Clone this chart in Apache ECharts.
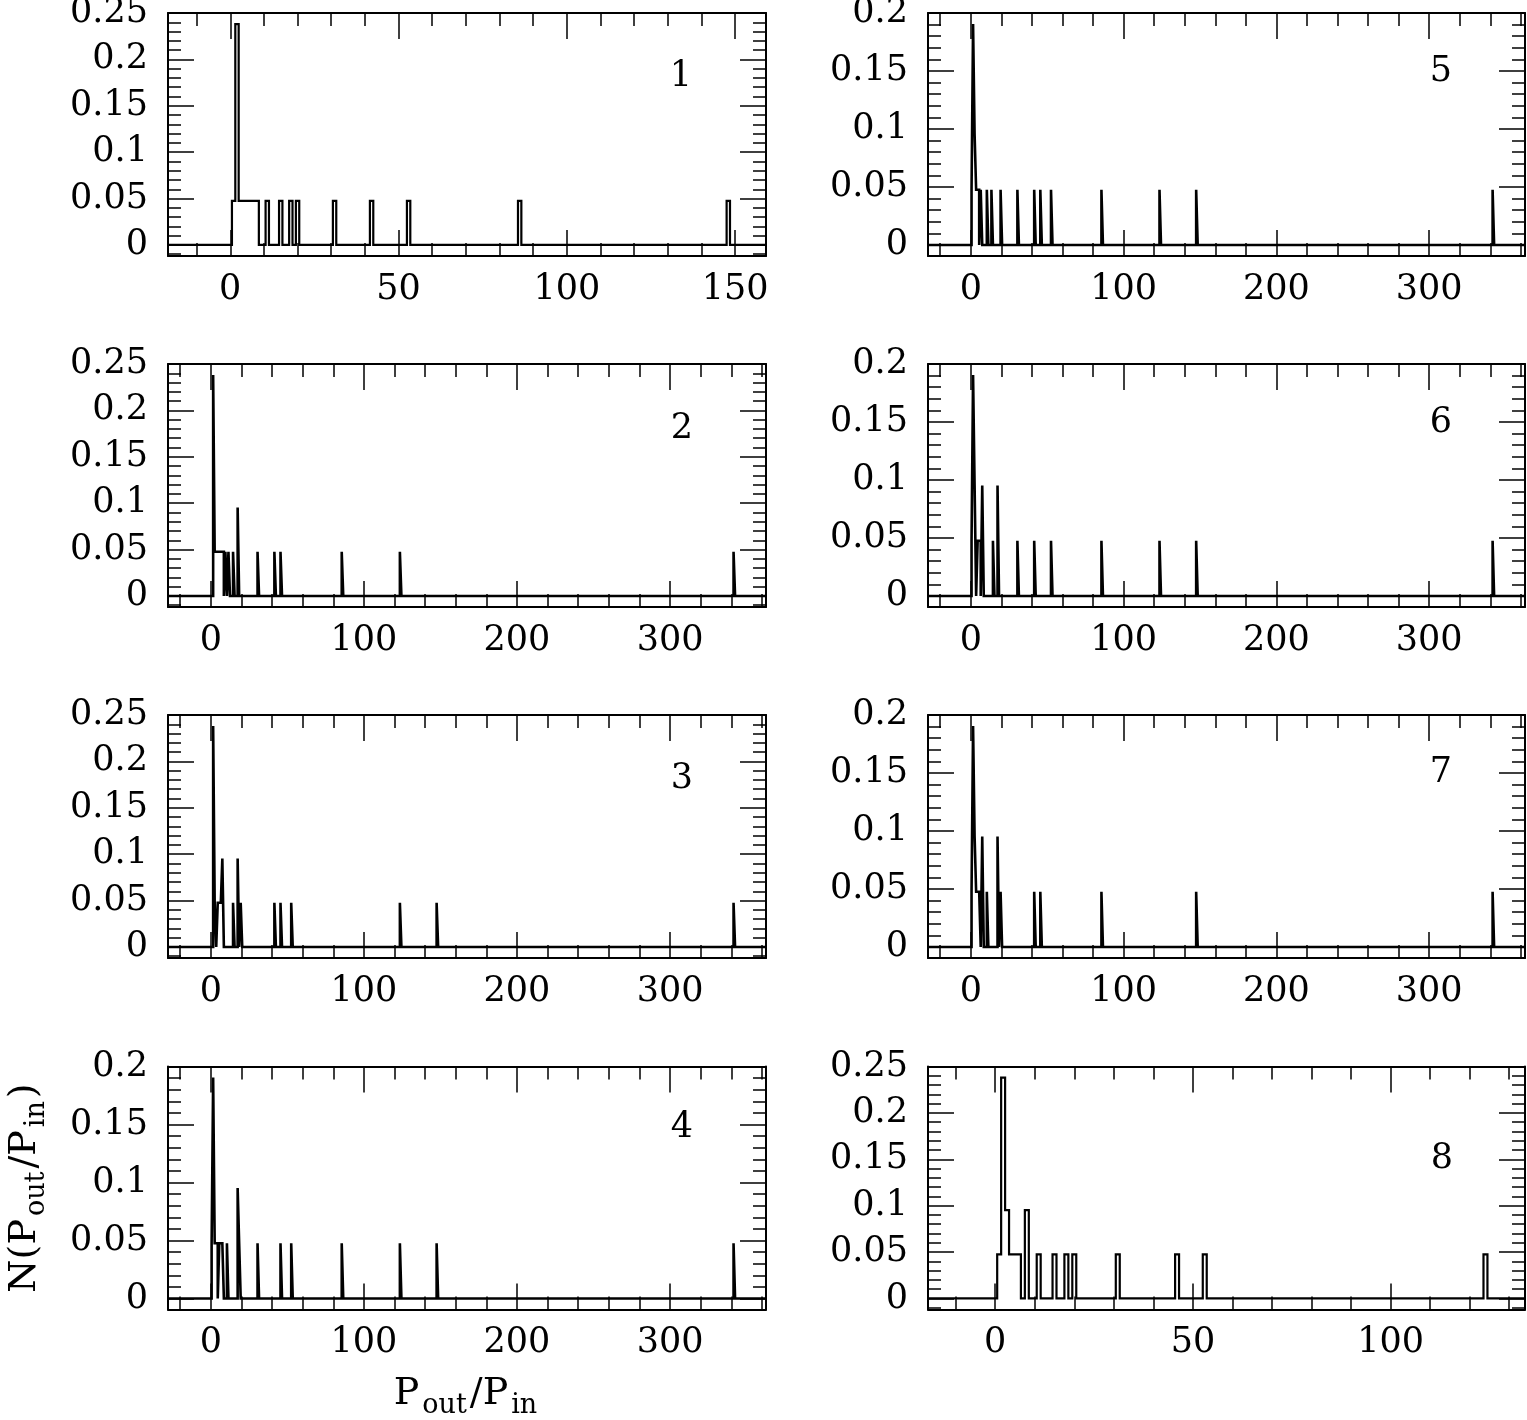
<!DOCTYPE html>
<html><head><meta charset="utf-8">
<script src="https://cdn.jsdelivr.net/npm/echarts@6/dist/echarts.min.js"></script>
<style>html,body{margin:0;padding:0;background:#fff}#c{width:1527px;height:1420px}</style>
</head><body><div id="c"></div>
<script>
// ---------- data (histogram bins: [bin centre, count]); values = count / N_TOTAL ----------
const N_TOTAL = 21;
const BIN_WIDTH = 1;
const bins1 = [[1,1],[2,5],[3,1],[4,1],[5,1],[6,1],[7,1],[8,1],[11,1],[15,1],[18,1],[20,1],[31,1],[42,1],[53,1],[86,1],[148,1]];
const bins2 = [[2,5],[3,1],[4,1],[5,1],[6,1],[7,1],[8,1],[10,1],[12,1],[15,1],[18,2],[31,1],[42,1],[46,1],[86,1],[124,1],[342,1]];
const bins3 = [[2,5],[3,1],[5,1],[6,1],[7,1],[8,2],[15,1],[18,2],[20,1],[42,1],[46,1],[53,1],[124,1],[148,1],[342,1]];
const bins4 = [[1,1],[2,4],[3,1],[4,1],[6,1],[7,1],[8,1],[11,1],[18,2],[19,1],[31,1],[46,1],[53,1],[86,1],[124,1],[148,1],[342,1]];
const bins5 = [[1,1],[2,4],[3,2],[4,1],[5,1],[7,1],[11,1],[14,1],[20,1],[31,1],[42,1],[46,1],[53,1],[86,1],[124,1],[148,1],[342,1]];
const bins6 = [[1,1],[2,4],[3,2],[5,1],[6,1],[8,2],[15,1],[18,2],[31,1],[42,1],[53,1],[86,1],[124,1],[148,1],[342,1]];
const bins7 = [[1,1],[2,4],[3,2],[4,1],[5,1],[6,1],[8,2],[11,1],[18,2],[20,1],[42,1],[46,1],[86,1],[148,1],[342,1]];
const bins8 = [[1,1],[2,5],[3,2],[4,1],[5,1],[6,1],[8,2],[11,1],[15,1],[18,1],[20,1],[31,1],[46,1],[53,1],[124,1]];
const panelLabels = ['1','2','3','4','5','6','7','8'];

// axis ranges
const xRangeA = [-18.5, 159.2];
const xRangeB = [-28, 362.7];
const xRangeC = [-17, 134];
const yRange25 = [-0.0119, 0.25];
const yRange20 = [-0.0095, 0.2];

// tick values / labels
const xMajorA = [0, 50, 100, 150];
const xMinorA = [-10, 10, 20, 30, 40, 60, 70, 80, 90, 110, 120, 130, 140];
const xMajorB = [0, 100, 200, 300];
const xMinorB = [-20, 20, 40, 60, 80, 120, 140, 160, 180, 220, 240, 260, 280, 320, 340, 360];
const xMajorC = [0, 50, 100];
const xMinorC = [-10, 10, 20, 30, 40, 60, 70, 80, 90, 110, 120, 130];
const yMajor25 = [0, 0.05, 0.1, 0.15, 0.2, 0.25];
const yMinor25 = [-0.01, 0.01, 0.02, 0.03, 0.04, 0.06, 0.07, 0.08, 0.09, 0.11, 0.12, 0.13, 0.14, 0.16, 0.17, 0.18, 0.19, 0.21, 0.22, 0.23, 0.24];
const yMajor20 = [0, 0.05, 0.1, 0.15, 0.2];
const yMinor20 = [0.01, 0.02, 0.03, 0.04, 0.06, 0.07, 0.08, 0.09, 0.11, 0.12, 0.13, 0.14, 0.16, 0.17, 0.18, 0.19];

const xTitle = '{m|P}{s|out}{m|/P}{s|in}';
const yTitle = '{m|N(P}{s|out}{m|/P}{s|in}{m|)}';

// ---------- layout / style ----------
const FONT = 'DejaVu Serif';
const FS = 35;
const colLeft = [168, 928], colWidth = [598, 597];
const rowTop = [13, 364, 715, 1066.5], rowHeight = 243;
const labelPos = [[681,77],[682,429],[682,779],[682,1128],[1441,72],[1441,423],[1441,773],[1442,1159]];

const panels = [
  {bins: bins1, xr: xRangeA, yr: yRange25, xMaj: xMajorA, xMin: xMinorA, yMaj: yMajor25, yMin: yMinor25, col: 0, row: 0, lw: 2.2},
  {bins: bins2, xr: xRangeB, yr: yRange25, xMaj: xMajorB, xMin: xMinorB, yMaj: yMajor25, yMin: yMinor25, col: 0, row: 1, lw: 2.6},
  {bins: bins3, xr: xRangeB, yr: yRange25, xMaj: xMajorB, xMin: xMinorB, yMaj: yMajor25, yMin: yMinor25, col: 0, row: 2, lw: 2.6},
  {bins: bins4, xr: xRangeB, yr: yRange20, xMaj: xMajorB, xMin: xMinorB, yMaj: yMajor20, yMin: yMinor20, col: 0, row: 3, lw: 2.6},
  {bins: bins5, xr: xRangeB, yr: yRange20, xMaj: xMajorB, xMin: xMinorB, yMaj: yMajor20, yMin: yMinor20, col: 1, row: 0, lw: 2.6},
  {bins: bins6, xr: xRangeB, yr: yRange20, xMaj: xMajorB, xMin: xMinorB, yMaj: yMajor20, yMin: yMinor20, col: 1, row: 1, lw: 2.6},
  {bins: bins7, xr: xRangeB, yr: yRange20, xMaj: xMajorB, xMin: xMinorB, yMaj: yMajor20, yMin: yMinor20, col: 1, row: 2, lw: 2.6},
  {bins: bins8, xr: xRangeC, yr: yRange25, xMaj: xMajorC, xMin: xMinorC, yMaj: yMajor25, yMin: yMinor25, col: 1, row: 3, lw: 2.2}
];

function stepPoints(bins, xr) {
  const pts = [[xr[0], 0]];
  let prevR = null, level = 0;
  bins.forEach(function (b) {
    const l = b[0] - BIN_WIDTH / 2, r = b[0] + BIN_WIDTH / 2, v = b[1] / N_TOTAL;
    if (prevR !== null && Math.abs(prevR - l) > 1e-9) { pts.push([prevR, 0]); level = 0; }
    pts.push([l, level]); pts.push([l, v]); pts.push([r, v]);
    level = v; prevR = r;
  });
  pts.push([prevR, 0]); pts.push([xr[1], 0]);
  return pts;
}

const richStyle = {
  m: {fontFamily: FONT, fontSize: 38, lineHeight: 50, color: '#000'},
  s: {fontFamily: FONT, fontSize: 27, lineHeight: 27, verticalAlign: 'bottom', color: '#000', padding: [0, 3, 0, 3]}
};

const grids = [], xAxes = [], yAxes = [], series = [];
const LINE = {color: '#000', width: 2};
const TICK = {color: '#000', width: 1.5};
const MAJ = 26, MIN = 13;

panels.forEach(function (p, i) {
  grids.push({left: colLeft[p.col], top: rowTop[p.row], width: colWidth[p.col], height: rowHeight,
    containLabel: false, outerBoundsMode: 'none', show: false});
  const bx = {type: 'value', gridIndex: i, min: p.xr[0], max: p.xr[1], splitLine: {show: false}, scale: false};
  const by = {type: 'value', gridIndex: i, min: p.yr[0], max: p.yr[1], splitLine: {show: false}, scale: false};
  const xi = xAxes.length, yi = yAxes.length;
  const xMain = Object.assign({}, bx, {position: 'bottom',
    axisLine: {show: true, onZero: false, lineStyle: LINE},
    axisTick: {show: true, inside: true, length: MAJ, customValues: p.xMaj, lineStyle: TICK},
    axisLabel: {show: true, customValues: p.xMaj, margin: 16, color: '#000', fontFamily: FONT, fontSize: FS}});
  if (i === 3) {
    Object.assign(xMain, {name: xTitle, nameLocation: 'middle', nameGap: 60,
      nameTextStyle: {rich: richStyle}});
  }
  xAxes.push(xMain);
  xAxes.push(Object.assign({}, bx, {position: 'bottom', axisLine: {show: false, onZero: false},
    axisTick: {show: true, inside: true, length: MIN, customValues: p.xMin, lineStyle: TICK}, axisLabel: {show: false}}));
  xAxes.push(Object.assign({}, bx, {position: 'top', axisLine: {show: true, onZero: false, lineStyle: LINE},
    axisTick: {show: true, inside: true, length: MAJ, customValues: p.xMaj, lineStyle: TICK}, axisLabel: {show: false}}));
  xAxes.push(Object.assign({}, bx, {position: 'top', axisLine: {show: false, onZero: false},
    axisTick: {show: true, inside: true, length: MIN, customValues: p.xMin, lineStyle: TICK}, axisLabel: {show: false}}));

  const yMain = Object.assign({}, by, {position: 'left',
    axisLine: {show: true, onZero: false, lineStyle: LINE},
    axisTick: {show: true, inside: true, length: MAJ, customValues: p.yMaj, lineStyle: TICK},
    axisLabel: {show: true, customValues: p.yMaj, margin: 20, color: '#000', fontFamily: FONT, fontSize: FS}});
  if (i === 3) {
    Object.assign(yMain, {name: yTitle, nameLocation: 'middle', nameRotate: 90, nameGap: 118,
      nameTextStyle: {rich: richStyle}});
  }
  yAxes.push(yMain);
  yAxes.push(Object.assign({}, by, {position: 'left', axisLine: {show: false, onZero: false},
    axisTick: {show: true, inside: true, length: MIN, customValues: p.yMin, lineStyle: TICK}, axisLabel: {show: false}}));
  yAxes.push(Object.assign({}, by, {position: 'right', axisLine: {show: true, onZero: false, lineStyle: LINE},
    axisTick: {show: true, inside: true, length: MAJ, customValues: p.yMaj, lineStyle: TICK}, axisLabel: {show: false}}));
  yAxes.push(Object.assign({}, by, {position: 'right', axisLine: {show: false, onZero: false},
    axisTick: {show: true, inside: true, length: MIN, customValues: p.yMin, lineStyle: TICK}, axisLabel: {show: false}}));

  series.push({type: 'line', xAxisIndex: xi, yAxisIndex: yi, data: stepPoints(p.bins, p.xr),
    showSymbol: false, symbol: 'none', lineStyle: {color: '#000', width: p.lw, join: 'miter', miterLimit: 2},
    silent: true, clip: true, z: 5});
});

const graphics = panelLabels.map(function (t, i) {
  return {type: 'text', x: labelPos[i][0], y: labelPos[i][1], z: 10,
    style: {text: t, fill: '#000', font: FS + 'px "' + FONT + '"', fontFamily: FONT, fontSize: FS,
      align: 'center', verticalAlign: 'middle', textAlign: 'center', textVerticalAlign: 'middle'}};
});

const chart = echarts.init(document.getElementById('c'), null, {renderer: 'canvas'});
chart.setOption({
  animation: false,
  backgroundColor: '#fff',
  textStyle: {fontFamily: FONT, color: '#000'},
  grid: grids, xAxis: xAxes, yAxis: yAxes, series: series, graphic: graphics
});
</script></body></html>
